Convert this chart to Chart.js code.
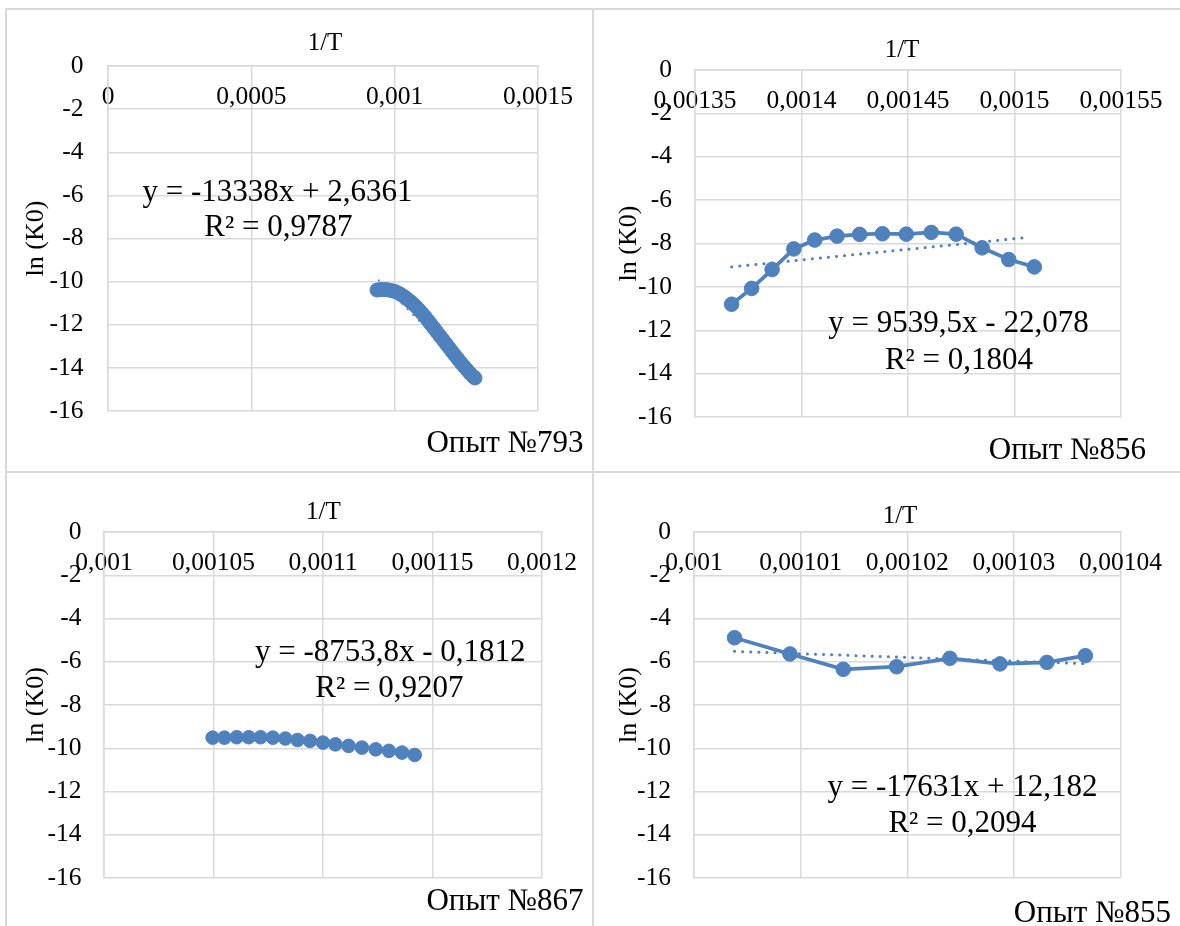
<!DOCTYPE html>
<html>
<head>
<meta charset="utf-8">
<script src="https://cdn.jsdelivr.net/npm/chart.js@4.4.1/dist/chart.umd.min.js"></script>
<style>
html,body{margin:0;padding:0;background:#fff;}
body{width:1180px;height:926px;position:relative;overflow:hidden;}
.line{position:absolute;background:#d9d9d9;}
canvas{position:absolute;}
</style>
</head>
<body>
<div class="line" style="left:5px;top:8px;width:1175px;height:2px"></div>
<div class="line" style="left:5px;top:8px;width:2px;height:918px"></div>
<div class="line" style="left:592px;top:8px;width:2px;height:918px"></div>
<div class="line" style="left:5px;top:471px;width:1175px;height:2px"></div>
<canvas id="c793" width="593" height="472" style="left:0;top:0"></canvas>
<canvas id="c856" width="587" height="472" style="left:593px;top:0"></canvas>
<canvas id="c867" width="593" height="454" style="left:0;top:472px"></canvas>
<canvas id="c855" width="587" height="454" style="left:593px;top:472px"></canvas>
<script>
// ---------- DATA ----------
const yTicks = [0, -2, -4, -6, -8, -10, -12, -14, -16];

// Опыт №793
const xTicks793 = [0, 0.0005, 0.001, 0.0015];
const x793 = [0.00093837,0.00094884,0.0009593,0.00096977,0.00098023,0.0009907,0.0010012,0.0010116,0.0010221,0.0010326,0.001043,0.0010535,0.001064,0.0010744,0.0010849,0.0010953,0.0011058,0.0011163,0.0011267,0.0011372,0.0011477,0.0011581,0.0011686,0.0011791,0.0011895,0.0012,0.0012105,0.0012209,0.0012314,0.0012419,0.0012523,0.0012628,0.0012733,0.0012802];
const y793 = [-10.39,-10.37,-10.365,-10.37,-10.39,-10.42,-10.46,-10.52,-10.6,-10.69,-10.8,-10.91,-11.03,-11.16,-11.31,-11.46,-11.62,-11.8,-11.98,-12.16,-12.34,-12.52,-12.7,-12.88,-13.06,-13.24,-13.42,-13.59,-13.77,-13.93,-14.09,-14.25,-14.39,-14.47];
const trendX793 = [0.000945, 0.00128];
const trendY793 = [-9.94, -14.44];
const eq793 = ['y = -13338x + 2,6361', 'R² = 0,9787'];

// Опыт №856
const xTicks856 = [0.00135, 0.0014, 0.00145, 0.0015, 0.00155];
const x856 = [0.0013672,0.0013766,0.0013862,0.0013964,0.0014062,0.0014167,0.0014273,0.001438,0.0014492,0.0014609,0.0014726,0.0014848,0.0014973,0.0015093];
const y856 = [-10.8,-10.07,-9.2,-8.25,-7.84,-7.66,-7.58,-7.55,-7.57,-7.49,-7.57,-8.2,-8.74,-9.08];
const trendX856 = [0.0013672, 0.001507];
const trendY856 = [-9.08, -7.71];
const eq856 = ['y = 9539,5x - 22,078', 'R² = 0,1804'];

// Опыт №867
const xTicks867 = [0.001, 0.00105, 0.0011, 0.00115, 0.0012];
const x867 = [0.0010496,0.001055,0.0010606,0.0010661,0.0010715,0.0010771,0.0010828,0.0010884,0.0010941,0.0011,0.0011057,0.0011117,0.0011178,0.0011241,0.0011301,0.0011361,0.0011419];
const y867 = [-9.51,-9.51,-9.49,-9.49,-9.49,-9.51,-9.55,-9.62,-9.66,-9.74,-9.82,-9.89,-9.97,-10.05,-10.12,-10.2,-10.31];
const trendX867 = [0.0010496, 0.0011419];
const trendY867 = [-9.37, -10.18];
const eq867 = ['y = -8753,8x - 0,1812', 'R² = 0,9207'];

// Опыт №855
const xTicks855 = [0.001, 0.00101, 0.00102, 0.00103, 0.00104];
const x855 = [0.0010038,0.001009,0.001014,0.001019,0.001024,0.0010287,0.0010331,0.0010367];
const y855 = [-4.89,-5.64,-6.35,-6.23,-5.84,-6.1,-6.03,-5.72];
const trendX855 = [0.0010038, 0.0010366];
const trendY855 = [-5.52, -6.09];
const eq855 = ['y = -17631x + 12,182', 'R² = 0,2094'];

// ---------- RENDERING ----------
const FONT = '"Liberation Serif", "Times New Roman", serif';
const BLUE = '#4F81BD';
const GRID = '#d9d9d9';

const textPlugin = {
  id: 'texts',
  afterDraw(chart, args, opts) {
    const ctx = chart.ctx;
    ctx.save();
    for (const t of (opts.items || [])) {
      ctx.font = t.size + 'px ' + FONT;
      ctx.fillStyle = '#000';
      ctx.textAlign = t.align || 'center';
      ctx.textBaseline = 'middle';
      ctx.fillText(t.text, t.x, t.y);
    }
    ctx.restore();
  }
};

function pts(xs, ys) { return xs.map((x, i) => ({x: x, y: ys[i]})); }
function fmt(v) { return String(+(+v).toPrecision(6)).replace('.', ','); }

function makeChart(id, o) {
  new Chart(document.getElementById(id), {
    type: 'scatter',
    data: {
      datasets: [
        {
          data: pts(o.xs, o.ys),
          showLine: o.line,
          borderColor: BLUE,
          backgroundColor: BLUE,
          borderWidth: 3.75,
          pointRadius: o.pr,
          pointBorderWidth: 1,
          pointBorderColor: BLUE,
          pointBackgroundColor: BLUE,
          order: 1
        },
        {
          data: pts(o.tx, o.ty),
          showLine: true,
          borderColor: BLUE,
          borderWidth: o.tw,
          borderDash: [0.1, 8],
          borderCapStyle: 'round',
          pointRadius: 0,
          order: 2
        }
      ]
    },
    options: {
      responsive: false,
      animation: false,
      events: [],
      layout: { padding: o.pad },
      plugins: {
        legend: { display: false },
        tooltip: { enabled: false },
        texts: { items: o.texts }
      },
      scales: {
        x: {
          type: 'linear',
          position: { y: 0 },
          min: o.xt[0],
          max: o.xt[o.xt.length - 1],
          afterBuildTicks: s => { s.ticks = o.xt.map(v => ({value: v})); },
          grid: { color: GRID, lineWidth: 1.5, drawTicks: false },
          border: { color: GRID, width: 1.5 },
          ticks: {
            autoSkip: false, maxRotation: 0, padding: 16, color: '#000',
            font: { family: FONT, size: 25.5 },
            callback: v => fmt(v)
          }
        },
        y: {
          type: 'linear',
          position: 'left',
          min: -16, max: 0,
          afterBuildTicks: s => { s.ticks = yTicks.map(v => ({value: v})); },
          afterFit: s => { s.width = o.yw; },
          grid: { color: GRID, lineWidth: 1.5, drawTicks: false },
          border: { color: GRID, width: 1.5 },
          ticks: {
            padding: o.tp, color: '#000',
            font: { family: FONT, size: 25.5 },
            callback: v => String(v)
          },
          title: {
            display: true, text: 'ln (K0)', color: '#000',
            font: { family: FONT, size: 26 },
            padding: { top: 21, bottom: 0 }
          }
        }
      }
    },
    plugins: [textPlugin]
  });
}

makeChart('c793', {
  xs: x793, ys: y793, tx: trendX793, ty: trendY793, xt: xTicks793,
  line: false, pr: 7, tw: 2, yw: 108, tp: 24.5,
  pad: {top: 66, bottom: 61, right: 55, left: 0},
  texts: [
    {text: '1/T', x: 325, y: 43, size: 25},
    {text: eq793[0], x: 277.5, y: 192.5, size: 31},
    {text: eq793[1], x: 278.4, y: 227.5, size: 31},
    {text: 'Опыт №793', x: 583.6, y: 444, size: 31, align: 'right'}
  ]
});

makeChart('c856', {
  xs: x856, ys: y856, tx: trendX856, ty: trendY856, xt: xTicks856,
  line: true, pr: 7.3, tw: 3, yw: 102, tp: 23,
  pad: {top: 70, bottom: 55, right: 59, left: 0},
  texts: [
    {text: '1/T', x: 309, y: 50, size: 25},
    {text: eq856[0], x: 365.5, y: 324, size: 31},
    {text: eq856[1], x: 366, y: 361, size: 31},
    {text: 'Опыт №856', x: 553, y: 451, size: 31, align: 'right'}
  ]
});

makeChart('c867', {
  xs: x867, ys: y867, tx: trendX867, ty: trendY867, xt: xTicks867,
  line: false, pr: 6.8, tw: 2.5, yw: 104, tp: 22.5,
  pad: {top: 60, bottom: 48, right: 51, left: 0},
  texts: [
    {text: '1/T', x: 323.4, y: 40.5, size: 25},
    {text: eq867[0], x: 390.3, y: 181, size: 31},
    {text: eq867[1], x: 389.4, y: 217, size: 31},
    {text: 'Опыт №867', x: 583.6, y: 430, size: 31, align: 'right'}
  ]
});

makeChart('c855', {
  xs: x855, ys: y855, tx: trendX855, ty: trendY855, xt: xTicks855,
  line: true, pr: 7.3, tw: 3, yw: 101, tp: 23,
  pad: {top: 60, bottom: 48, right: 59.5, left: 0},
  texts: [
    {text: '1/T', x: 307, y: 44, size: 25},
    {text: eq855[0], x: 369.5, y: 316, size: 31},
    {text: eq855[1], x: 369.5, y: 352, size: 31},
    {text: 'Опыт №855', x: 578, y: 442, size: 31, align: 'right'}
  ]
});
</script>
</body>
</html>
